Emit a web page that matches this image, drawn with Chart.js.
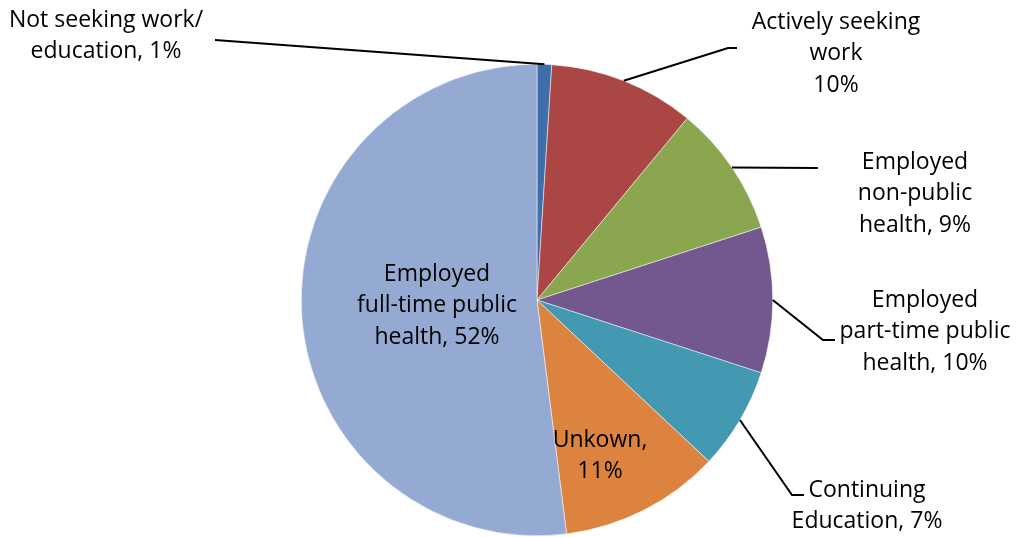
<!DOCTYPE html>
<html>
<head>
<meta charset="utf-8">
<script src="https://cdn.jsdelivr.net/npm/chart.js@4/dist/chart.umd.min.js"></script>
<style>
  html, body { margin: 0; padding: 0; background: #fff; }
  #wrap { width: 1019px; height: 537px; position: relative; }
</style>
</head>
<body>
<div id="wrap"><canvas id="pie"></canvas></div>
<script>
// values, clockwise from 12 o'clock
const categories = [
  'Not seeking work/ education',
  'Actively seeking work',
  'Employed non-public health',
  'Employed part-time public health',
  'Continuing Education',
  'Unkown',
  'Employed full-time public health'
];
const shares = [1, 10, 9, 10, 7, 11, 52];

// the label text, as it is broken into lines in the picture
const labelLines = [
  ['Not seeking work/', 'education, 1%'],
  ['Actively seeking', 'work', '10%'],
  ['Employed', 'non-public', 'health, 9%'],
  ['Employed', 'part-time public', 'health, 10%'],
  ['Continuing', 'Education, 7%'],
  ['Unkown,', '11%'],
  ['Employed', 'full-time public', 'health, 52%']
];

const sliceColors = ['#3F6FAA', '#AA4644', '#8AA64F', '#72588F', '#4399B1', '#DC8340', '#95AAD2'];

// where each label sits and where its leader line bends (null = no line)
const labelSpots = [
  { x: 106, y: 20, line: [[215, 40]] },
  { x: 836, y: 22, line: [[728, 48], [737, 48]] },
  { x: 915, y: 162, line: [[818, 168]] },
  { x: 925, y: 300, line: [[823, 340], [835, 340]] },
  { x: 867, y: 490, line: [[792, 495], [804, 495]] },
  { x: 600, y: 440, line: null },
  { x: 437, y: 274, line: null }
];

const labelPlugin = {
  id: 'pieLabels',
  afterDatasetsDraw(chart) {
    const ctx = chart.ctx;
    const arcs = chart.getDatasetMeta(0).data;
    ctx.save();
    ctx.font = '23px "Open Sans", sans-serif';
    ctx.fillStyle = '#000';
    ctx.textAlign = 'center';
    ctx.textBaseline = 'middle';
    arcs.forEach((arc, i) => {
      const spot = labelSpots[i];
      if (spot.line) {
        const mid = (arc.startAngle + arc.endAngle) / 2;
        const ax = arc.x + arc.outerRadius * Math.cos(mid);
        const ay = arc.y + arc.outerRadius * Math.sin(mid);
        ctx.beginPath();
        ctx.moveTo(ax, ay);
        spot.line.forEach(p => ctx.lineTo(p[0], p[1]));
        ctx.strokeStyle = '#000';
        ctx.lineWidth = 2;
        ctx.stroke();
      }
      labelLines[i].forEach((txt, k) => {
        ctx.fillText(txt, spot.x, spot.y + k * 31.5);
      });
    });
    ctx.restore();
  }
};

new Chart(document.getElementById('pie'), {
  type: 'pie',
  data: {
    labels: categories,
    datasets: [{
      data: shares,
      backgroundColor: sliceColors,
      borderColor: '#ffffff',
      borderWidth: 0.5
    }]
  },
  options: {
    responsive: true,
    maintainAspectRatio: false,
    animation: false,
    layout: { padding: { top: 64, bottom: 1, left: 301, right: 246 } },
    plugins: {
      legend: { display: false },
      tooltip: { enabled: false }
    }
  },
  plugins: [labelPlugin]
});
</script>
</body>
</html>
